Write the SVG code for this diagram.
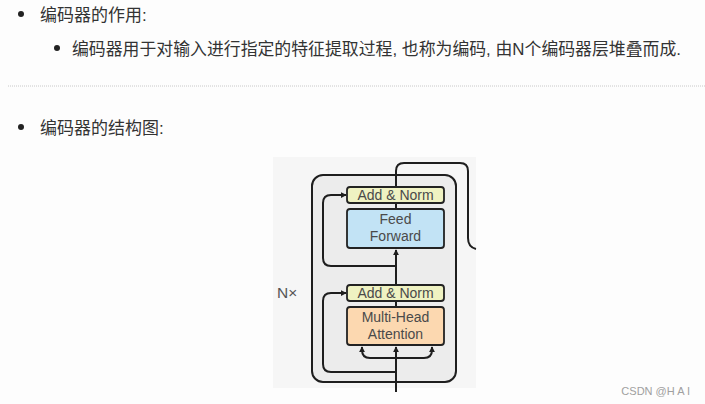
<svg xmlns="http://www.w3.org/2000/svg" width="705" height="404" viewBox="0 0 705 404">
<defs>
<style>
.cn{font-family:"Liberation Sans","Noto Sans CJK SC",sans-serif;font-size:17px;fill:#333}
.lbl{font-family:"Liberation Sans",Arial,sans-serif;fill:#4a4a4a;text-anchor:middle;font-size:14px}
.box{stroke:#222;stroke-width:1.8}
.ln{fill:none;stroke:#1e1e1e;stroke-width:2}
</style>
<marker id="ah" viewBox="0 0 8 8" refX="7" refY="4" markerWidth="6" markerHeight="6" markerUnits="userSpaceOnUse" orient="auto">
<path d="M0,0 L8,4 L0,8 z" fill="#1e1e1e"/>
</marker>
</defs>
<rect width="705" height="404" fill="#fdfdfd"/>
<g id="text">
<circle cx="21" cy="14" r="3" fill="#222"/>
<text class="cn" x="40" y="20.5">编码器的作用:</text>
<circle cx="57" cy="48" r="3" fill="#222"/>
<text class="cn" x="72" y="54.5" textLength="609" lengthAdjust="spacingAndGlyphs">编码器用于对输入进行指定的特征提取过程, 也称为编码, 由N个编码器层堆叠而成.</text>
<line x1="8" y1="86" x2="705" y2="86" stroke="#c8c8c8" stroke-width="1" stroke-dasharray="1,1"/>
<circle cx="21" cy="127" r="3" fill="#222"/>
<text class="cn" x="40" y="133.5">编码器的结构图:</text>
<text x="690" y="395" text-anchor="end" font-family="Liberation Sans,Arial,sans-serif" font-size="11" fill="#a0a0a0">CSDN @H A I</text>
</g>
<rect x="273" y="157" width="203" height="231" fill="#f6f6f6"/>
<g id="nx-block">
<rect x="312" y="175" width="144" height="207" rx="11" fill="#ececec" stroke="#1e1e1e" stroke-width="2"/>
<text x="277" y="298" font-family="Liberation Sans,Arial,sans-serif" font-size="15.5" fill="#555">N×</text>
</g>
<g id="connectors">
<path class="ln" d="M396,392 V347" marker-end="url(#ah)"/>
<path class="ln" d="M396,358 H370 Q362,358 362,350 V347" marker-end="url(#ah)"/>
<path class="ln" d="M396,358 H424 Q432,358 432,350 V347" marker-end="url(#ah)"/>
<path class="ln" d="M396,307 V301"/>
<path class="ln" d="M396,285 V250" marker-end="url(#ah)"/>
<path class="ln" d="M396,209 V203"/>
<path class="ln" d="M396,372 H331 Q323,372 323,364 V301 Q323,293 331,293 H346" marker-end="url(#ah)"/>
<path class="ln" d="M396,266 H331 Q323,266 323,258 V203 Q323,195 331,195 H346" marker-end="url(#ah)"/>
<path class="ln" d="M396,187 V171 Q396,163 404,163 H460 Q468,163 468,171 V238 Q468,247 476,249"/>
</g>
<g id="addnorm-top">
<rect class="box" x="347" y="187" width="97" height="16" rx="3" fill="#eff2c2"/>
<text class="lbl" x="395.5" y="200">Add &amp; Norm</text>
</g>
<g id="feed-forward">
<rect class="box" x="347" y="209" width="97" height="39" rx="3" fill="#c2e3f5"/>
<text class="lbl" x="395.5" y="224">Feed</text>
<text class="lbl" x="395.5" y="241">Forward</text>
</g>
<g id="addnorm-bottom">
<rect class="box" x="347" y="285" width="97" height="16" rx="3" fill="#eff2c2"/>
<text class="lbl" x="395.5" y="298">Add &amp; Norm</text>
</g>
<g id="multi-head-attention">
<rect class="box" x="347" y="307" width="97" height="38" rx="3" fill="#fcd8b0"/>
<text class="lbl" x="395.5" y="322">Multi-Head</text>
<text class="lbl" x="395.5" y="338.5">Attention</text>
</g>
</svg>
